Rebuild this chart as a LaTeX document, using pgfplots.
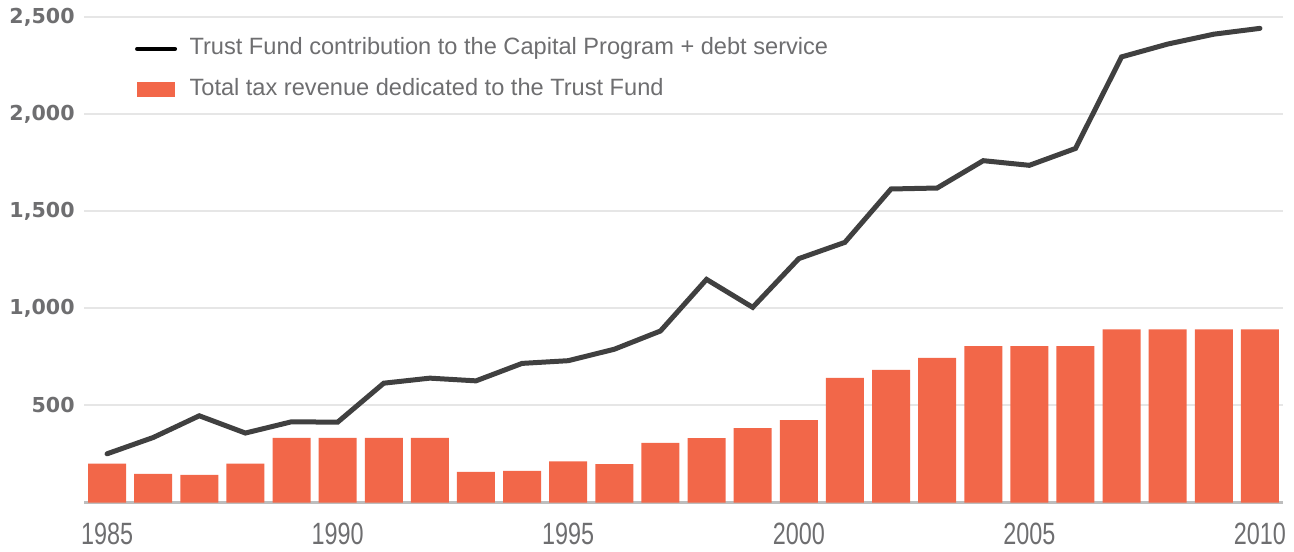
\documentclass[border=0pt]{standalone}
\usepackage{fontspec}
\setmainfont{Liberation Sans}
\newfontface\ybold{DejaVu Sans Bold}
\newfontfamily\xfam{Liberation Sans}[FakeStretch=0.76]
\usepackage{pgfplots}
\pgfplotsset{compat=1.18}
\definecolor{barc}{HTML}{F26749}
\definecolor{linec}{HTML}{404040}
\definecolor{labc}{HTML}{6E6E70}
\definecolor{gridc}{HTML}{E6E6E6}
\definecolor{basec}{HTML}{BDBDBD}
\begin{document}
\begin{tikzpicture}
\begin{axis}[
  scale only axis, width=599.5bp, height=242.5bp,
  xmin=1984.5, xmax=2010.5, ymin=0, ymax=2500,
  axis line style={draw=none}, major tick length=0pt,
  ytick={500,1000,1500,2000,2500},
  ymajorgrids, grid style={color=gridc, line width=1bp},
  extra y ticks={0}, extra y tick labels={},
  extra y tick style={grid style={color=basec, line width=1.2bp}},
  xtick={1985,1990,1995,2000,2005,2010},
  /pgf/number format/assume math mode=true,
  xticklabel style={font=\xfam\fontsize{15.4bp}{17bp}\selectfont, color=labc, anchor=north, inner sep=0pt, yshift=-10.2bp, /pgf/number format/1000 sep={}},
  yticklabel style={font=\ybold\fontsize{10.3bp}{12bp}\selectfont, color=labc, anchor=east, inner sep=0pt, xshift=-4.5bp, /pgf/number format/1000 sep={,}},
  legend style={at={(rel axis cs:0.0405,0.96)}, anchor=north west, draw=none, fill=none, inner sep=0pt, outer sep=0pt,
    font=\fontsize{11.8bp}{14bp}\selectfont, text=labc, row sep=8.25bp,
    nodes={inner sep=0pt, text height=9bp, text depth=3bp},
    /tikz/every odd column/.append style={column sep=5bp}},
  legend cell align=left,
  reverse legend,
]
\addplot[ybar, bar width=19bp, fill=barc, draw=none,
  legend image code/.code={\path (0bp,0bp) (21bp,0bp); \fill[barc] (0.8bp,-3.9bp) rectangle (20bp,3.9bp);}]
  coordinates {
  (1985,200) (1986,148) (1987,143) (1988,200) (1989,333) (1990,333) (1991,333) (1992,333)
  (1993,158) (1994,163) (1995,212) (1996,198) (1997,307) (1998,332) (1999,384) (2000,425)
  (2001,642) (2002,683) (2003,745) (2004,806) (2005,806) (2006,806) (2007,892) (2008,892)
  (2009,892) (2010,892)};
\addlegendentry{Total tax revenue dedicated to the Trust Fund}
\addplot[color=linec, line width=2.5bp, line cap=round, mark=none,
  legend image code/.code={\path (0bp,0bp) (21bp,0bp); \draw[black, line width=2bp, line cap=round] (1bp,0bp) -- (20bp,0bp);}]
  coordinates {
  (1985,251) (1986,335) (1987,447) (1988,358) (1989,416) (1990,414) (1991,615) (1992,641)
  (1993,627) (1994,717) (1995,731) (1996,790) (1997,884) (1998,1150) (1999,1006) (2000,1257)
  (2001,1341) (2002,1616) (2003,1621) (2004,1762) (2005,1738) (2006,1825) (2007,2297) (2008,2363)
  (2009,2414) (2010,2444)};
\addlegendentry{Trust Fund contribution to the Capital Program + debt service}
\end{axis}
\pgfresetboundingbox
\path[use as bounding box] (-42bp,-24.75bp) rectangle (605bp,251.25bp);
\end{tikzpicture}
\end{document}
